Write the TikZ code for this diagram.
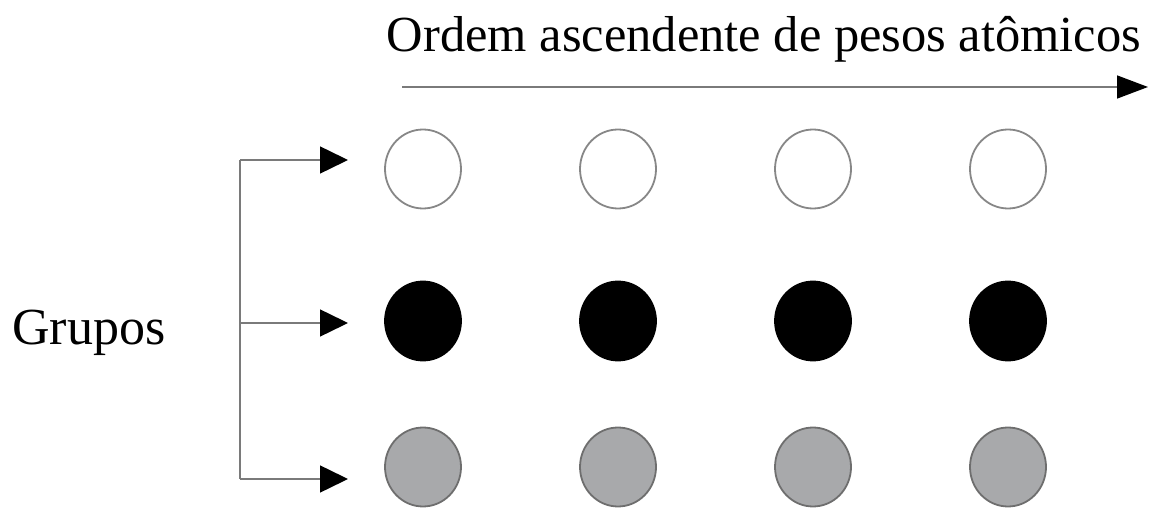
\documentclass[tikz,border=0pt]{standalone}
\usepackage{fontspec}
\setmainfont{Liberation Serif}
\usetikzlibrary{arrows.meta,shapes.geometric}
\definecolor{linegray}{HTML}{7A7A7A}
\definecolor{dotgray}{HTML}{A8A9AB}
\definecolor{dotedge}{HTML}{6E6E6E}
\begin{document}
\begin{tikzpicture}[x=1pt,y=-1pt,
  conn/.style={draw=linegray,line width=1.5pt},
  tip/.style={-{Triangle[length=28pt,width=27pt,color=black]}},
  dot/.style={ellipse,minimum width=76pt,minimum height=79pt,inner sep=0pt,line width=1.8pt},
  whitedot/.style={dot,draw=linegray!90,fill=white},
  blackdot/.style={dot,draw=black,fill=black},
  graydot/.style={dot,draw=dotedge,fill=dotgray},
  lbl/.style={inner sep=0pt,font=\fontsize{50.5}{60}\selectfont}]
\useasboundingbox (0,0) rectangle (1149,510);
% title
\node[lbl,anchor=base] (title) at (764,52) {Ordem ascendente de pesos atômicos};
\coordinate (ta) at (402,87);
\coordinate (tb) at (1148,87);
\draw[conn,-{Triangle[length=31pt,width=23pt,color=black]}] (ta) -- (tb);
% groups label
\node[lbl,anchor=base,font=\fontsize{52}{60}\selectfont] (grupos) at (89,345) {Grupos};
% circles
\foreach \c/\x in {1/423,2/618,3/813,4/1008}{
  \node[whitedot] (w\c) at (\x,169) {};
  \node[blackdot] (k\c) at (\x,321) {};
  \node[graydot] (g\c) at (\x,467) {};
}
% bracket
\coordinate (b1) at (240,160);
\coordinate (b2) at (240,323);
\coordinate (b3) at (240,479);
\coordinate (e1) at (348,160);
\coordinate (e2) at (348,323);
\coordinate (e3) at (348,479);
\draw[conn] (b1) -- (b3);
\draw[conn,tip] (b1) -- (e1);
\draw[conn,tip] (b2) -- (e2);
\draw[conn,tip] (b3) -- (e3);
\end{tikzpicture}
\end{document}
